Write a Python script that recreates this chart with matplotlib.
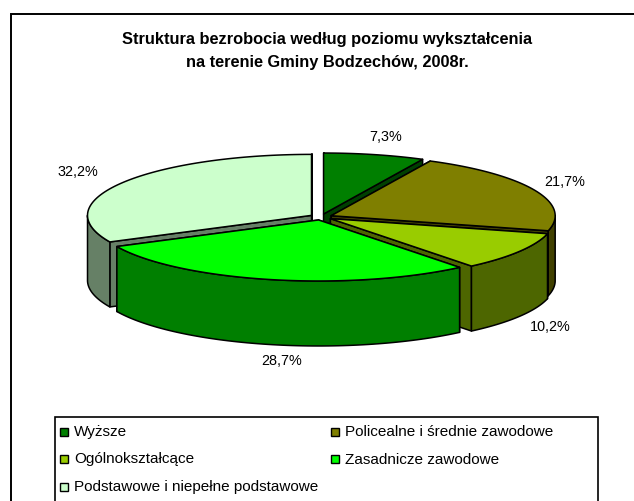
import numpy as np
import matplotlib
matplotlib.use("Agg")
from matplotlib import pyplot as plt
from matplotlib.patches import Polygon, Rectangle

title = "Struktura bezrobocia według poziomu wykształcenia\nna terenie Gminy Bodzechów, 2008r."
categories = ["Wyższe", "Policealne i średnie zawodowe", "Ogólnokształcące",
              "Zasadnicze zawodowe", "Podstawowe i niepełne podstawowe"]
values = [7.3, 21.7, 10.2, 28.7, 32.2]
labels = ["7,3%", "21,7%", "10,2%", "28,7%", "32,2%"]
top_colors = ["#007f00", "#7f7f00", "#99cc00", "#00ff00", "#ccffcc"]
side_colors = ["#004000", "#404000", "#4d6600", "#007f00", "#668066"]

plt.rcParams['font.family'] = ['Liberation Sans', 'DejaVu Sans']

fig = plt.figure(figsize=(6.34, 5.01), dpi=100)
ax = fig.add_axes([0, 0, 1, 1])
ax.set_xlim(0, 634)
ax.set_ylim(501, 0)
ax.axis('off')

# cadre du graphique : coupe a droite et en bas par l'image
ax.add_patch(Rectangle((10.5, 13.5), 700, 600, fc='white', ec='black', lw=1.4))

ax.text(327.5, 51, title, ha='center', va='center', fontsize=11.8, fontweight='bold', linespacing=1.6)

# geometrie du camembert 3D
cx, cy = 321, 217
rx, ry = 224, 61
depth = 65
explode = 0.05


def rim(a0, a1, ox, oy, n=80):
    th = np.radians(np.linspace(a0, a1, n))
    return np.column_stack([ox + rx * np.sin(th), oy - ry * np.cos(th)])


# angles de chaque part, a partir du haut, sens horaire
ends = np.cumsum(values) / np.sum(values) * 360
starts = np.concatenate([[0], ends[:-1]])

# on dessine de l'arriere vers l'avant
order = [0, 4, 1, 2, 3]
for i in order:
    a0, a1 = starts[i], ends[i]
    mid = np.radians((a0 + a1) / 2)
    ox = cx + explode * rx * np.sin(mid)
    oy = cy - explode * ry * np.cos(mid)
    style = dict(ec='black', lw=1.1, joinstyle='round')
    # faces radiales
    for a in (a0, a1):
        p = rim(a, a, ox, oy, 1)[0]
        quad = [(ox, oy), p, (p[0], p[1] + depth), (ox, oy + depth)]
        ax.add_patch(Polygon(quad, fc=side_colors[i], **style))
    # face exterieure, seulement la partie avant
    f0, f1 = max(a0, 90), min(a1, 270)
    if f1 > f0:
        arc = rim(f0, f1, ox, oy)
        wall = np.vstack([arc, arc[::-1] + [0, depth]])
        ax.add_patch(Polygon(wall, fc=side_colors[i], **style))
    # dessus
    top = np.vstack([[ox, oy], rim(a0, a1, ox, oy)])
    ax.add_patch(Polygon(top, fc=top_colors[i], **style))

# etiquettes des parts
label_x = [386, 565, 550, 282, 78]
label_y = [137, 182, 327, 361, 172]
for t, x, y in zip(labels, label_x, label_y):
    ax.text(x, y, t, ha='center', va='center', fontsize=10.4)

# legende
ax.add_patch(Rectangle((54.5, 416.5), 543, 120, fc='white', ec='black', lw=1.2))
leg_x = [60, 331, 60, 331, 60]
leg_y = [431.5, 431.5, 459, 459, 486.5]
for name, col, x, y in zip(categories, top_colors, leg_x, leg_y):
    ax.add_patch(Rectangle((x, y - 4), 8, 8, fc=col, ec='black', lw=1))
    ax.text(x + 14, y + 0.5, name, ha='left', va='center', fontsize=11)

fig.savefig("out.png", dpi=100)
